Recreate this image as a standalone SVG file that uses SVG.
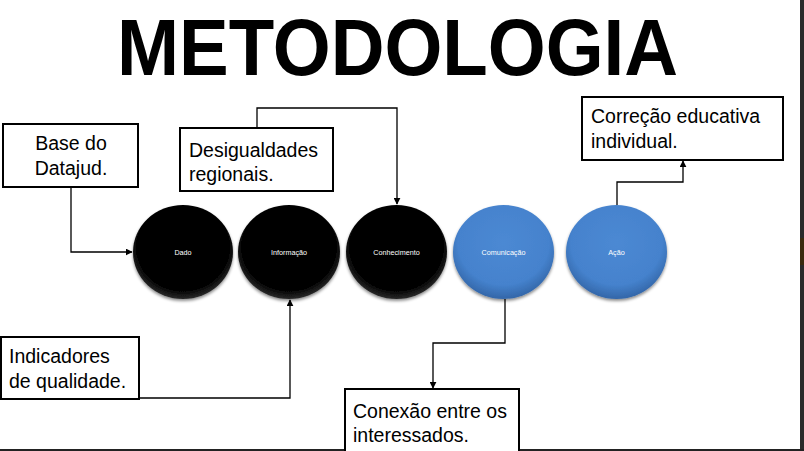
<svg xmlns="http://www.w3.org/2000/svg" width="804" height="451" viewBox="0 0 804 451">
  <defs>
    <style>
      .box { fill: #ffffff; stroke: #000000; stroke-width: 2; }
      .btxt { font-family: "Liberation Sans", Arial, sans-serif; font-size: 19.5px; fill: #000000; }
      .ltxt { font-family: "Liberation Sans", Arial, sans-serif; font-size: 7.2px; fill: #ffffff; text-anchor: middle; }
      .conn { fill: none; stroke: #000000; stroke-width: 1.3; }
      .title { font-family: "Liberation Sans", Arial, sans-serif; font-weight: bold; font-size: 80px; fill: #000000; }
    </style>
    <marker id="arr" viewBox="0 0 10 10" refX="9" refY="5" markerWidth="7" markerHeight="7" markerUnits="userSpaceOnUse" orient="auto">
      <path d="M0,0 L10,5 L0,10 z" fill="#000000"/>
    </marker>
    <radialGradient id="gBlack" cx="50%" cy="45%" r="55%">
      <stop offset="0" stop-color="#000000"/>
      <stop offset="0.85" stop-color="#050505"/>
      <stop offset="1" stop-color="#2a2a2a"/>
    </radialGradient>
    <radialGradient id="gBlue" cx="50%" cy="40%" r="60%">
      <stop offset="0" stop-color="#4c89d3"/>
      <stop offset="0.75" stop-color="#4582cd"/>
      <stop offset="1" stop-color="#3366a8"/>
    </radialGradient>
    <filter id="sh" x="-20%" y="-20%" width="140%" height="150%">
      <feDropShadow dx="0" dy="2" stdDeviation="1.5" flood-color="#000000" flood-opacity="0.45"/>
    </filter>
  </defs>

  <rect x="0" y="0" width="804" height="451" fill="#ffffff"/>
  <rect x="800" y="0" width="4" height="451" fill="#2a2a2a"/>
  <rect x="800" y="238" width="4" height="27" fill="#3a2a0e"/>
  <rect x="0" y="449" width="804" height="2" fill="#222222"/>

  <text class="title" x="117" y="75" textLength="561" lengthAdjust="spacingAndGlyphs">METODOLOGIA</text>

  <g id="connectors">
    <polyline class="conn" points="71,187 71,252 132,252" marker-end="url(#arr)"/>
    <polyline class="conn" points="257,128 257,108 397,108 397,204" marker-end="url(#arr)"/>
    <polyline class="conn" points="617,205 617,182 683,182 683,161" marker-end="url(#arr)"/>
    <polyline class="conn" points="139,398 290,398 290,300" marker-end="url(#arr)"/>
    <polyline class="conn" points="505,299 505,343 433,343 433,388" marker-end="url(#arr)"/>
  </g>

  <g id="n-dado">
    <ellipse cx="183" cy="252" rx="50" ry="47" fill="url(#gBlack)" filter="url(#sh)"/>
    <text class="ltxt" x="183" y="255">Dado</text>
  </g>
  <g id="n-informacao">
    <ellipse cx="289" cy="252" rx="51" ry="47" fill="url(#gBlack)" filter="url(#sh)"/>
    <text class="ltxt" x="289" y="255">Informação</text>
  </g>
  <g id="n-conhecimento">
    <ellipse cx="396.5" cy="252" rx="50.5" ry="47" fill="url(#gBlack)" filter="url(#sh)"/>
    <text class="ltxt" x="396.5" y="255">Conhecimento</text>
  </g>
  <g id="n-comunicacao">
    <ellipse cx="503.5" cy="252" rx="50.5" ry="47" fill="url(#gBlue)" filter="url(#sh)"/>
    <text class="ltxt" x="503.5" y="255">Comunicação</text>
  </g>
  <g id="n-acao">
    <ellipse cx="616.5" cy="252" rx="50.5" ry="47" fill="url(#gBlue)" filter="url(#sh)"/>
    <text class="ltxt" x="616.5" y="255">Ação</text>
  </g>

  <g id="b-base">
    <rect class="box" x="3" y="124" width="135" height="63"/>
    <text class="btxt" x="71" y="150" text-anchor="middle">Base do</text>
    <text class="btxt" x="71" y="175" text-anchor="middle">Datajud.</text>
  </g>
  <g id="b-desigualdades">
    <rect class="box" x="180" y="128" width="153" height="63"/>
    <text class="btxt" x="189" y="157">Desigualdades</text>
    <text class="btxt" x="189" y="181">regionais.</text>
  </g>
  <g id="b-correcao">
    <rect class="box" x="582" y="97" width="201" height="63"/>
    <text class="btxt" x="591" y="123">Correção educativa</text>
    <text class="btxt" x="591" y="148">individual.</text>
  </g>
  <g id="b-indicadores">
    <rect class="box" x="1" y="337" width="138" height="62"/>
    <text class="btxt" x="9" y="363">Indicadores</text>
    <text class="btxt" x="9" y="388">de qualidade.</text>
  </g>
  <g id="b-conexao">
    <rect class="box" x="345" y="389" width="174" height="70"/>
    <text class="btxt" x="353" y="418">Conexão entre os</text>
    <text class="btxt" x="353" y="442">interessados.</text>
  </g>
</svg>
